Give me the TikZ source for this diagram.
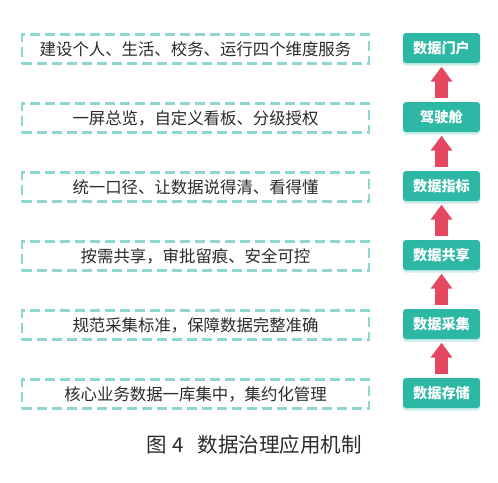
\documentclass[tikz,border=0pt]{standalone}
\usepackage{fontspec}
\newfontfamily\cjk{Noto Sans CJK SC}
\usetikzlibrary{positioning,shadows,arrows.meta}
\definecolor{tealbox}{HTML}{2DB8A6}
\definecolor{dashteal}{HTML}{8ED6CE}
\definecolor{arrowred}{HTML}{E64760}
\definecolor{textgray}{HTML}{2B2B2B}

\begin{document}
\begin{tikzpicture}[x=1pt,y=-1pt,
    task/.style={draw=dashteal,line width=2.1pt,dash pattern=on 10pt off 5pt,
        minimum width=347pt,minimum height=29pt,inner sep=0pt,
        text=textgray,font=\cjk\fontsize{16.4}{18}\selectfont},
    stage/.style={fill=tealbox,rounded corners=3pt,minimum width=77pt,
        minimum height=30pt,inner sep=0pt,text=white,
        font=\cjk\bfseries\fontsize{14.2}{16}\selectfont,
        drop shadow={shadow xshift=0pt,shadow yshift=-2.5pt,fill=tealbox!35,opacity=.7}},
    up/.style={draw=arrowred,line width=13pt,shorten <=4pt,shorten >=3.5pt,
        -{Triangle[length=15pt,width=21pt]}},
    caption/.style={text=textgray,font=\cjk\fontsize{20.5}{22}\selectfont}]

\useasboundingbox[fill=white] (0,0) rectangle (498,482);

\foreach \i/\txt in {1/建设个人、生活、校务、运行四个维度服务,
                     2/一屏总览，自定义看板、分级授权,
                     3/统一口径、让数据说得清、看得懂,
                     4/按需共享，审批留痕、安全可控,
                     5/规范采集标准，保障数据完整准确,
                     6/核心业务数据一库集中，集约化管理}
    \node[task] (d\i) at (195.5,{49+69*(\i-1)}) {\txt};

\foreach \i/\txt in {1/数据门户,2/驾驶舱,3/数据指标,4/数据共享,5/数据采集,6/数据存储}
    \node[stage] (g\i) at (441.5,{48+69*(\i-1)}) {\txt};

\foreach \i/\j in {2/1,3/2,4/3,5/4,6/5}
    \draw[up] (g\i.north) -- (g\j.south);

\node[caption] (cap) at (254,445) {图\hspace{6pt}4\hspace{14pt}数据治理应用机制};

\end{tikzpicture}
\end{document}
